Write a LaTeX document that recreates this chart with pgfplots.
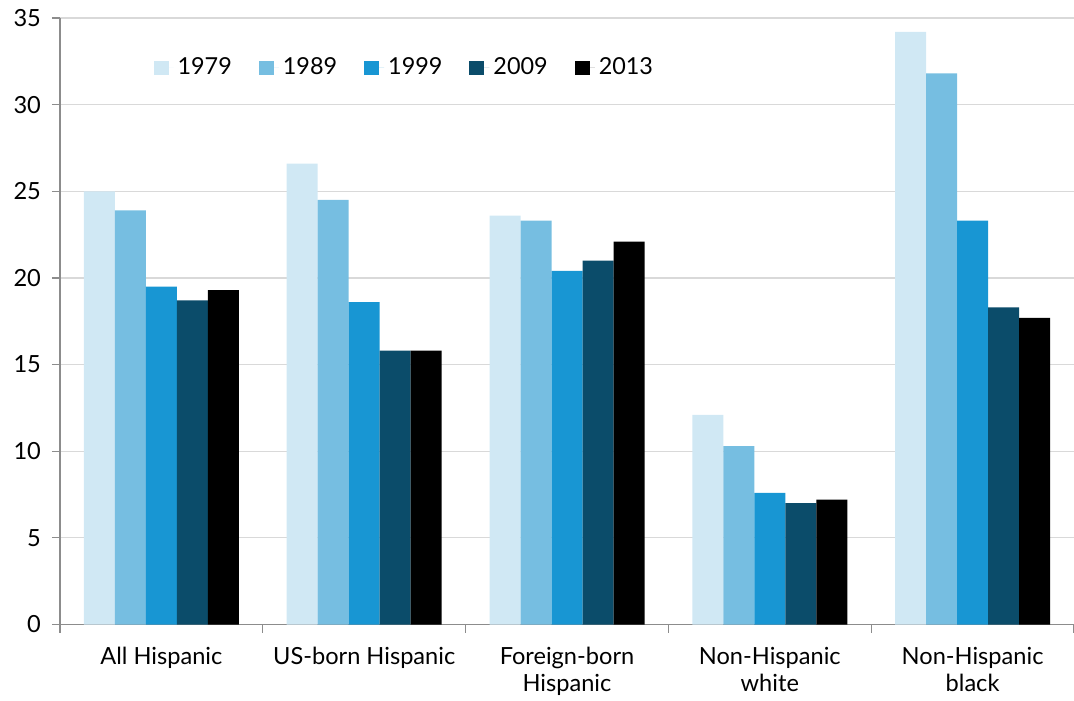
\documentclass[border=0pt]{standalone}
\usepackage{pgfplots}
\pgfplotsset{compat=1.18}
\usepackage{fontspec}
\setmainfont{Lato}
\definecolor{c79}{HTML}{D0E8F4}
\definecolor{c89}{HTML}{76BEE1}
\definecolor{c99}{HTML}{1896D3}
\definecolor{c09}{HTML}{0B4C6A}
\definecolor{c13}{HTML}{000000}
\definecolor{axg}{HTML}{8C8C8C}
\definecolor{grd}{HTML}{D9D9D9}
\begin{document}
\begin{tikzpicture}
\useasboundingbox (-30pt,-37.75pt) rectangle (507pt,312.25pt);
\begin{axis}[
  at={(0,0)}, anchor=south west,
  scale only axis,
  width=507pt, height=303.25pt,
  xmin=-0.5, xmax=4.5,
  ymin=0, ymax=35,
  ytick={0,5,...,35},
  xtick={0,1,2,3,4},
  xticklabels={All Hispanic,US-born Hispanic,Foreign-born\\Hispanic,Non-Hispanic\\white,Non-Hispanic\\black},
  minor xtick={-0.5,0.5,1.5,2.5,3.5,4.5},
  xticklabel style={align=center, font=\fontsize{11.8}{13.5}\selectfont, text=black, yshift=-4pt},
  yticklabel style={font=\fontsize{11.8}{13}\selectfont, text=black, xshift=-2pt},
  /pgf/number format/assume math mode=true,
  major x tick style={draw=none},
  minor x tick style={draw=axg, line width=0.6pt},
  minor tick length=4pt,
  y tick style={draw=axg, line width=0.6pt},
  major tick length=4pt,
  tick align=outside,
  xtick pos=bottom, ytick pos=left,
  ymajorgrids,
  grid style={draw=grd, line width=0.6pt},
  axis x line*=bottom, axis y line*=left,
  axis line style={draw=axg, line width=0.6pt},
  x axis line style={-}, y axis line style={-},
  ybar=0pt, bar width=15.5pt,
  legend style={at={(0.086,0.918)}, anchor=west, draw=none, fill=none,
    legend columns=5, font=\fontsize{11.7}{13}\selectfont,
    /tikz/every even column/.append style={column sep=11.5pt}},
  legend image code/.code={\path (0pt,0pt) -- (10pt,0pt); \fill[#1] (0pt,-3.6pt) rectangle (7.5pt,3.6pt);},
]
\addplot[fill=c79, draw=none] coordinates {(0,25.0) (1,26.6) (2,23.6) (3,12.1) (4,34.2)};
\addplot[fill=c89, draw=none] coordinates {(0,23.9) (1,24.5) (2,23.3) (3,10.3) (4,31.8)};
\addplot[fill=c99, draw=none] coordinates {(0,19.5) (1,18.6) (2,20.4) (3,7.6) (4,23.3)};
\addplot[fill=c09, draw=none] coordinates {(0,18.7) (1,15.8) (2,21.0) (3,7.0) (4,18.3)};
\addplot[fill=c13, draw=none] coordinates {(0,19.3) (1,15.8) (2,22.1) (3,7.2) (4,17.7)};
\legend{1979,1989,1999,2009,2013}
\end{axis}
\end{tikzpicture}
\end{document}
